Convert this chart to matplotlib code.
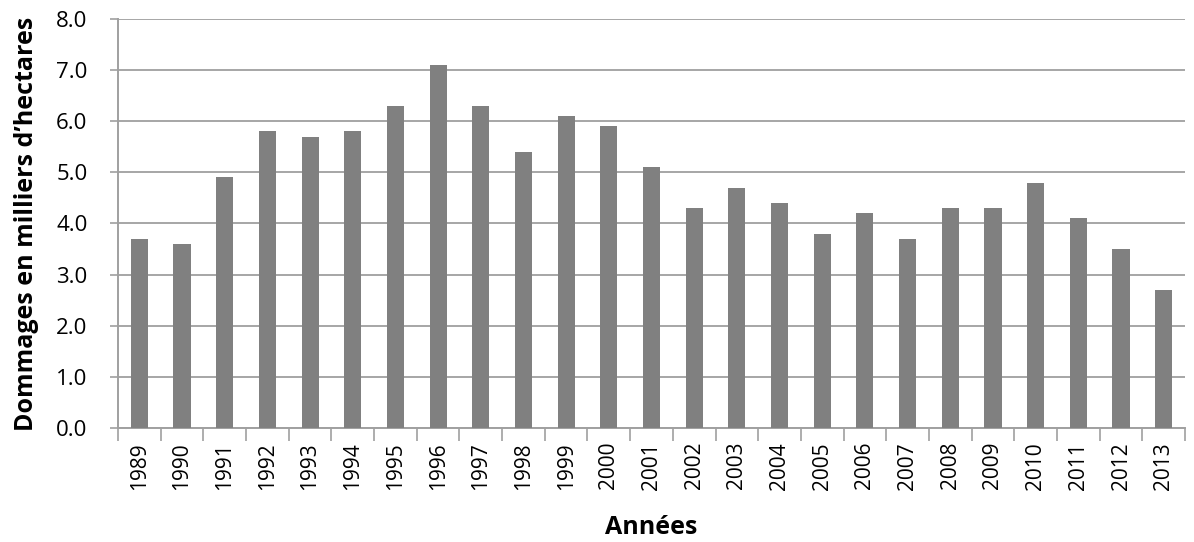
import matplotlib
matplotlib.use("Agg")
import matplotlib.pyplot as plt
import numpy as np

plt.rcParams['font.family'] = ['Open Sans', 'DejaVu Sans']

years = [str(y) for y in range(1989, 2014)]
values = [3.7, 3.6, 4.9, 5.8, 5.7, 5.8, 6.3, 7.1, 6.3, 5.4, 6.1, 5.9, 5.1,
          4.3, 4.7, 4.4, 3.8, 4.2, 3.7, 4.3, 4.3, 4.8, 4.1, 3.5, 2.7]
y_ticks = [0, 1, 2, 3, 4, 5, 6, 7, 8]

fig = plt.figure(figsize=(11.94, 5.42), dpi=100)
axs = fig.add_axes([0.0988, 0.2103, 0.8937, 0.7547])

x = np.arange(len(years))
axs.bar(x, values, width=0.4, color='#808080', zorder=3)

axs.set_xlim(-0.5, len(years) - 0.5)
axs.set_ylim(0, 8)
axs.set_yticks(y_ticks)
axs.set_yticklabels(["%.1f" % v for v in y_ticks], fontsize=16)
axs.set_xticks(x)
axs.set_xticklabels(years, rotation=90, fontsize=15)
axs.tick_params(axis='x', length=0, pad=10)
axs.set_xticks(np.arange(-0.5, len(years), 1), minor=True)
axs.tick_params(axis='x', which='minor', length=9, color='#a0a0a0', width=1.2)
axs.tick_params(axis='y', length=6, color='#a0a0a0', width=1.2, pad=16)

axs.grid(axis='y', color='#a6a6a6', linewidth=1.4, zorder=0)
for s in ['top', 'right']:
    axs.spines[s].set_visible(False)
axs.spines['left'].set_color('#a0a0a0')
axs.spines['bottom'].set_color('#a0a0a0')
axs.spines['left'].set_linewidth(1.4)
axs.spines['bottom'].set_linewidth(1.4)

axs.set_ylabel("Dommages en milliers d\u2019hectares", fontsize=18, fontweight='bold', labelpad=12)
axs.set_xlabel("Ann\u00e9es", fontsize=18, fontweight='bold', labelpad=18)

fig.savefig("out.png", dpi=100)
